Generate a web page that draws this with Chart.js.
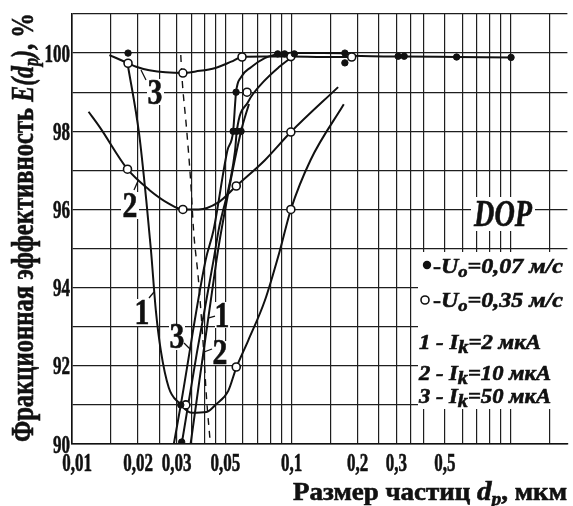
<!DOCTYPE html>
<html>
<head>
<meta charset="utf-8">
<script src="https://cdn.jsdelivr.net/npm/chart.js@4.4.1/dist/chart.umd.min.js"></script>
<style>
    html, body { margin: 0; padding: 0; background: #ffffff; }
    #wrap { width: 573px; height: 506px; }
</style>
</head>
<body>
<div id="wrap"><canvas id="effChart" width="573" height="506"></canvas></div>
<script>
// grid and tick values
const xGrid = [0.01, 0.015, 0.02, 0.025, 0.03, 0.035, 0.04, 0.045, 0.05, 0.06, 0.07, 0.08, 0.09,
    0.1, 0.15, 0.2, 0.25, 0.3, 0.35, 0.4, 0.5, 0.6, 0.7, 0.8, 0.9, 1, 1.5];
const xTicks = [0.01, 0.02, 0.03, 0.05, 0.1, 0.2, 0.3, 0.5];
const xTickLabels = ["0,01", "0,02", "0,03", "0,05", "0,1", "0,2", "0,3", "0,5"];
const yGrid = [90, 91, 92, 93, 94, 95, 96, 97, 98, 99, 100, 101];
const yTicks = [90, 92, 94, 96, 98, 100];
const yTickLabels = ["90", "92", "94", "96", "98", "100"];

// U0 = 0,35 m/s curves (open markers)
const curve3X = [0.0148, 0.018, 0.0196, 0.0225, 0.032, 0.0366, 0.045, 0.0531, 0.0595, 0.075, 0.0993, 0.14, 0.188];
const curve3Y = [99.95, 99.74, 99.65, 99.56, 99.49, 99.53, 99.62, 99.78, 99.9, 99.91, 99.91, 99.9, 99.9];
const curve2X = [0.0119, 0.0134, 0.0179, 0.0225, 0.0276, 0.032, 0.0377, 0.0464, 0.056, 0.0756, 0.0993, 0.163];
const curve2Y = [98.5, 98.1, 97.03, 96.5, 96.15, 96.0, 96.0, 96.18, 96.6, 97.26, 97.98, 99.13];
const curve1X = [0.0179, 0.0202, 0.0218, 0.0229, 0.0241, 0.0254, 0.0276, 0.0307, 0.0351, 0.041, 0.045,
    0.0515, 0.056, 0.0634, 0.0756, 0.0885, 0.0993, 0.122, 0.173];
const curve1Y = [99.74, 97.95, 96.23, 94.95, 93.41, 92.38, 91.44, 91.05, 90.8, 90.82, 91.0,
    91.36, 91.95, 92.64, 93.67, 94.95, 96.0, 97.26, 98.69];
const dashedX = [0.0313, 0.0316, 0.0333, 0.0347, 0.0358, 0.0377, 0.0397, 0.041, 0.0427];
const dashedY = [99.95, 99.49, 98.03, 96.74, 95.46, 94.18, 92.46, 91.18, 90.0];

// steep curves
const steepAX = [0.0291, 0.0313, 0.0406, 0.0441, 0.051, 0.0542, 0.0559, 0.0588, 0.0654, 0.0755, 0.0865];
const steepAY = [90, 91, 94.7, 95.46, 97.5, 98, 99, 99.38, 99.64, 99.87, 99.98];
const steepBX = [0.0316, 0.0371, 0.0441, 0.0465, 0.0553, 0.0563, 0.0634, 0.0755, 0.088, 0.0993];
const steepBY = [90, 92.35, 94.69, 95.46, 97.5, 98, 98.75, 99.3, 99.65, 99.88];
const steepCX = [0.0347, 0.0455, 0.0479, 0.0589, 0.064];
const steepCY = [90, 94.69, 95.46, 98, 98.7];

// U0 = 0,07 m/s line along the top
const topX = [0.0865, 0.093, 0.104, 0.14, 0.175, 0.19, 0.306, 0.326, 0.565, 1.0];
const topY = [99.98, 99.99, 100, 100, 99.99, 99.93, 99.91, 99.91, 99.9, 99.89];

// measured points
const openX = [0.018, 0.032, 0.0595, 0.0993, 0.188, 0.0179, 0.032, 0.056, 0.0993, 0.033, 0.056, 0.0993, 0.0627];
const openY = [99.74, 99.49, 99.9, 99.91, 99.9, 97.03, 96.0, 96.6, 97.98, 91.0, 91.97, 96.0, 99.0];
const filledX = [0.018, 0.0313, 0.0316, 0.0542, 0.0563, 0.0589, 0.0559, 0.0865, 0.093, 0.103, 0.175, 0.175,
    0.306, 0.326, 0.565, 1.0];
const filledY = [100, 91, 90.05, 98, 98, 98, 99, 99.98, 99.98, 99.98, 100, 99.75,
    99.92, 99.92, 99.9, 99.89];

const SERIF = "'Liberation Serif', 'DejaVu Serif', serif";

function toPoints(xs, ys) {
    return xs.map((x, i) => ({ x: x, y: ys[i] }));
}

function curve(xs, ys, dashed) {
    return {
        data: toPoints(xs, ys),
        borderColor: "#111111",
        borderWidth: dashed ? 1.4 : 2,
        borderDash: dashed ? [7, 6] : [],
        pointRadius: 0,
        fill: false,
        cubicInterpolationMode: "monotone"
    };
}

// fill + thin stroke, the scan looks heavier than a plain bold face
function heavyText(ctx, t, x, y) {
    ctx.fillText(t, x, y);
    ctx.strokeText(t, x, y);
}

// draws a run of text pieces, squeezed to a given width
function richText(ctx, parts, x, y, width) {
    let total = 0;
    parts.forEach(p => {
        ctx.font = p.f;
        p.w = ctx.measureText(p.t).width;
        total += p.w;
    });
    const sx = width ? width / total : 1;
    ctx.save();
    ctx.translate(x, y);
    ctx.scale(sx, 1);
    ctx.textAlign = "left";
    ctx.textBaseline = "alphabetic";
    let cx = 0;
    parts.forEach(p => {
        ctx.font = p.f;
        heavyText(ctx, p.t, cx, p.dy || 0);
        cx += p.w;
    });
    ctx.restore();
}

const B = s => "bold " + s + "px " + SERIF;
const BI = s => "italic bold " + s + "px " + SERIF;

const annotations = {
    id: "annotations",
    beforeDatasetsDraw(chart) {
        const ctx = chart.ctx;
        ctx.save();
        ctx.fillStyle = "#ffffff";
        // legend area, DOP and curve number labels
        [[418, 252, 155, 157], [471, 197, 64, 34],
         [147, 79, 17, 26], [121, 192, 18, 27], [135, 299, 15, 27],
         [169, 325, 16, 25], [215, 302, 15, 26], [212, 341, 16, 24]
        ].forEach(b => ctx.fillRect(b[0], b[1], b[2], b[3]));
        ctx.restore();
    },
    afterDraw(chart) {
        const ctx = chart.ctx;
        const xs = chart.scales.x;
        const ys = chart.scales.y;
        const area = chart.chartArea;
        ctx.save();
        ctx.fillStyle = "#111111";
        ctx.strokeStyle = "#111111";
        ctx.lineWidth = 0.6;

        // tick labels
        ctx.font = B(25);
        xTicks.forEach((v, i) => {
            const px = Math.max(xs.getPixelForValue(v), area.left + 5);
            ctx.save();
            ctx.translate(px, 471);
            ctx.scale(0.68, 1);
            ctx.textAlign = "center";
            heavyText(ctx, xTickLabels[i], 0, 0);
            ctx.restore();
        });
        yTicks.forEach((v, i) => {
            const py = ys.getPixelForValue(v);
            ctx.save();
            ctx.translate(70, py + 8.5);
            ctx.scale(0.68, 1);
            ctx.textAlign = "right";
            heavyText(ctx, yTickLabels[i], 0, 0);
            ctx.restore();
        });

        // axis titles
        ctx.save();
        ctx.translate(33, 442);
        ctx.rotate(-Math.PI / 2);
        richText(ctx, [
            { t: "Фракционная эффективность ", f: B(32) },
            { t: "E(d", f: BI(31) },
            { t: "p", f: BI(21), dy: 5 },
            { t: ")", f: BI(31) },
            { t: ", %", f: B(32) }
        ], 0, 0, 429);
        ctx.restore();

        richText(ctx, [
            { t: "Размер частиц ", f: B(25) },
            { t: "d", f: BI(27) },
            { t: "p", f: BI(18), dy: 5 },
            { t: ", мкм", f: B(25) }
        ], 293, 500, 274);

        // curve numbers
        [["3", 155, 104], ["2", 130, 217], ["1", 142, 324],
         ["3", 177, 348], ["1", 222, 327], ["2", 220, 364]].forEach(l => {
            ctx.save();
            ctx.translate(l[1], l[2]);
            ctx.scale(0.85, 1);
            ctx.font = B(35);
            ctx.textAlign = "center";
            heavyText(ctx, l[0], 0, 0);
            ctx.restore();
        });
        ctx.lineWidth = 1.3;
        [[146, 80, 141, 70], [134, 190, 138, 181], [149, 298, 154, 292],
         [184, 343, 190, 349], [208, 318, 215, 316], [204, 352, 212, 349]].forEach(s => {
            ctx.beginPath();
            ctx.moveTo(s[0], s[1]);
            ctx.lineTo(s[2], s[3]);
            ctx.stroke();
        });

        // DOP
        ctx.lineWidth = 0.6;
        richText(ctx, [{ t: "DOP", f: BI(37) }], 474, 226, 58);

        // legend
        ctx.beginPath();
        ctx.arc(427, 265, 4.2, 0, Math.PI * 2);
        ctx.fill();
        ctx.beginPath();
        ctx.lineWidth = 1.6;
        ctx.arc(425, 300, 4, 0, Math.PI * 2);
        ctx.stroke();
        ctx.lineWidth = 0.6;
        richText(ctx, [
            { t: "-", f: B(22) }, { t: "U", f: BI(22) }, { t: "o", f: BI(17), dy: 4 },
            { t: "=0,07 м/с", f: BI(22) }
        ], 433, 273, 130);
        richText(ctx, [
            { t: "-", f: B(22) }, { t: "U", f: BI(22) }, { t: "o", f: BI(17), dy: 4 },
            { t: "=0,35 м/с", f: BI(22) }
        ], 433, 307, 130);
        [["1 - ", "=2 мкА", 349, 122], ["2 - ", "=10 мкА", 380, 132], ["3 - ", "=50 мкА", 403, 132]].forEach(r => {
            richText(ctx, [
                { t: r[0], f: BI(20) }, { t: "I", f: BI(20) }, { t: "k", f: BI(18), dy: 4 },
                { t: r[1], f: BI(20) }
            ], 419, r[2], r[3]);
        });
        ctx.restore();
    }
};

const gridStyle = {
    color: "#1e1e1e",
    lineWidth: 1.2,
    drawTicks: false
};

new Chart(document.getElementById("effChart"), {
    type: "line",
    data: {
        datasets: [
            {
                data: toPoints(filledX, filledY),
                showLine: false,
                pointRadius: 3.2,
                pointBackgroundColor: "#111111",
                pointBorderColor: "#111111",
                pointBorderWidth: 1
            },
            {
                data: toPoints(openX, openY),
                showLine: false,
                pointRadius: 4,
                pointBackgroundColor: "#ffffff",
                pointBorderColor: "#111111",
                pointBorderWidth: 1.6
            },
            curve(curve3X, curve3Y),
            curve(curve2X, curve2Y),
            curve(curve1X, curve1Y),
            curve(dashedX, dashedY, true),
            curve(steepAX, steepAY),
            curve(steepBX, steepBY),
            curve(steepCX, steepCY),
            curve(topX, topY)
        ]
    },
    options: {
        responsive: false,
        animation: false,
        devicePixelRatio: 1,
        layout: { padding: { top: 14, left: 0, right: 0, bottom: 0 } },
        plugins: {
            legend: { display: false },
            tooltip: { enabled: false }
        },
        scales: {
            x: {
                type: "logarithmic",
                min: 0.01,
                max: 1.806,
                afterBuildTicks: s => { s.ticks = xGrid.map(v => ({ value: v })); },
                afterFit: s => { s.height = 62; },
                ticks: { display: false, autoSkip: false },
                grid: gridStyle,
                border: { color: "#111111", width: 1.6 }
            },
            y: {
                min: 90,
                max: 101,
                afterBuildTicks: s => { s.ticks = yGrid.map(v => ({ value: v })); },
                afterFit: s => { s.width = 72; },
                ticks: { display: false, autoSkip: false },
                grid: gridStyle,
                border: { color: "#111111", width: 1.6 }
            }
        }
    },
    plugins: [annotations]
});
</script>
</body>
</html>
